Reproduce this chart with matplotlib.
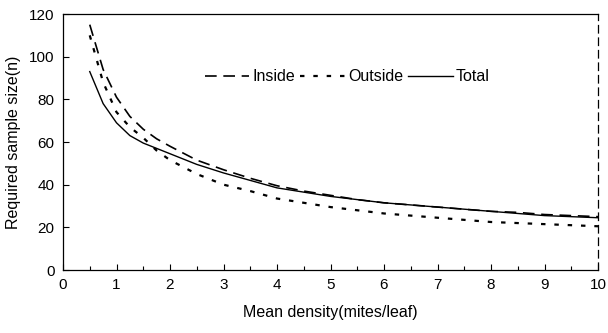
import numpy as np
import matplotlib.pyplot as plt

plt.rcParams['font.family'] = ['Liberation Sans', 'DejaVu Sans']

# Дані
density = [0.5, 0.75, 1, 1.25, 1.5, 1.75, 2, 2.5, 3, 3.5, 4, 4.5, 5, 5.5, 6, 6.5, 7, 7.5, 8, 8.5, 9, 9.5, 10]
inside = [115, 94, 81, 72, 66, 61.5, 58, 51.5, 47, 43, 39.5, 37, 35, 33, 31.5, 30.5, 29.5, 28.5, 27.5, 27, 26, 25.5, 25]
outside = [110, 88, 74, 67, 62, 56, 51.5, 45, 40, 37, 33.5, 31.5, 29.5, 28, 26.5, 25.5, 24.5, 23.5, 22.5, 22, 21.5, 21, 20.5]
total = [93, 78, 69, 63, 59.5, 57, 54.5, 49.5, 45.5, 42, 38.5, 36.5, 34.5, 33, 31.5, 30.5, 29.5, 28.5, 27.5, 26.5, 25.5, 25, 24.5]

fig = plt.figure(figsize=(6.08, 3.33), dpi=100)
ax = fig.add_axes([63 / 608, 1 - 270 / 333, (598 - 63) / 608, (270 - 14) / 333])

ax.plot(density, inside, color='black', lw=1.2, dashes=(7, 4), label='Inside')
ax.plot(density, outside, color='black', lw=1.6, dashes=(2, 4), label='Outside')
ax.plot(density, total, color='black', lw=1.0, label='Total')

ax.set_xlim(0, 10)
ax.set_ylim(0, 120)
ax.set_xticks(range(0, 11))
ax.set_xticks(np.arange(0.5, 10, 1), minor=True)
ax.set_yticks(range(0, 121, 20))
ax.tick_params(axis='both', direction='in', length=4, width=0.8, labelsize=11, pad=6)
ax.tick_params(axis='x', which='minor', direction='in', length=3, width=0.8)

for s in ['left', 'bottom', 'top']:
    ax.spines[s].set_linewidth(0.9)
ax.spines['right'].set_linestyle((0, (6, 4)))
ax.spines['right'].set_linewidth(0.9)

ax.set_xlabel('Mean density(mites/leaf)', fontsize=11.5, labelpad=9)
ax.set_ylabel('Required sample size(n)', fontsize=11.5, labelpad=6)

ax.legend(loc='center', bbox_to_anchor=(0.531, 0.754), ncol=3, frameon=False,
          fontsize=11.5, handlelength=2.8, handletextpad=0.2, columnspacing=0.3)

fig.savefig('out.png', dpi=100)
plt.close(fig)
